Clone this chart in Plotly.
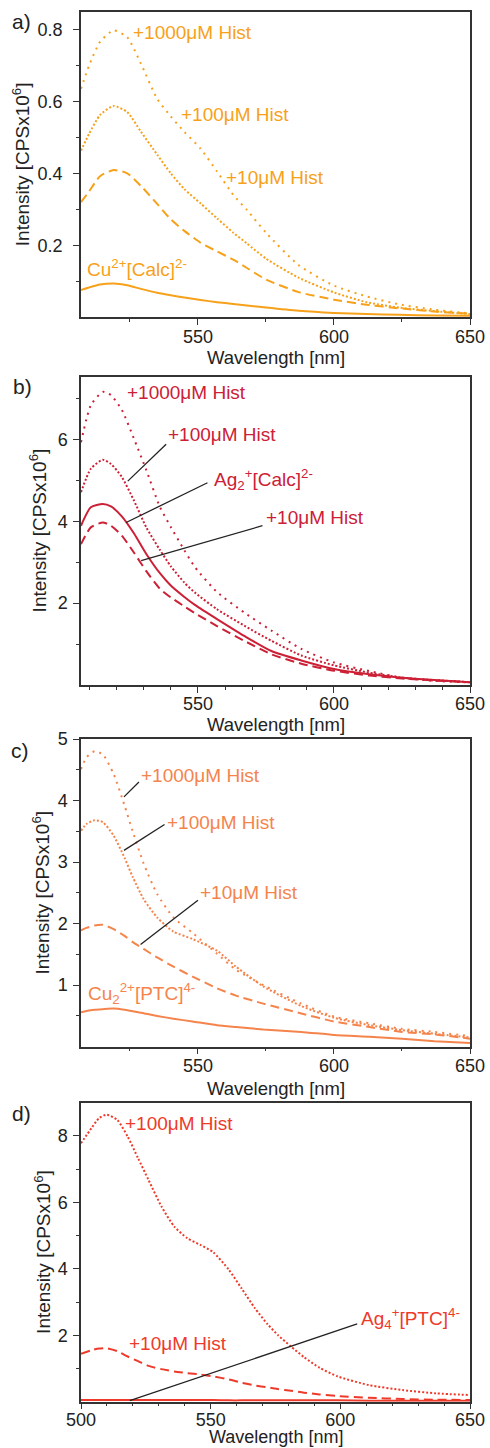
import plotly.graph_objects as go

# ---------------- data ----------------
# Panel a) Cu2+[Calc]2-
WL_A = [507, 510, 514, 519, 524, 529, 535, 540, 545, 551, 557, 563, 568, 575, 587, 600, 612, 624, 637, 650]
A_1000 = [0.635, 0.70, 0.765, 0.797, 0.778, 0.705, 0.607, 0.558, 0.515, 0.468, 0.405, 0.34, 0.298, 0.235, 0.145, 0.088, 0.058, 0.036, 0.021, 0.011]
A_100 = [0.463, 0.51, 0.562, 0.587, 0.570, 0.516, 0.452, 0.40, 0.356, 0.316, 0.275, 0.235, 0.205, 0.163, 0.11, 0.069, 0.042, 0.027, 0.017, 0.009]
A_10 = [0.32, 0.35, 0.392, 0.409, 0.40, 0.365, 0.315, 0.272, 0.240, 0.207, 0.183, 0.16, 0.137, 0.105, 0.07, 0.049, 0.035, 0.025, 0.016, 0.01]
A_0 = [0.076, 0.083, 0.091, 0.094, 0.089, 0.079, 0.068, 0.061, 0.055, 0.048, 0.042, 0.037, 0.033, 0.027, 0.018, 0.012, 0.009, 0.007, 0.005, 0.004]

# Panel b) Ag2+[Calc]2-
WL_B = [507, 510.6, 515, 518, 522, 526.5, 531, 536, 540, 545, 549, 557, 567, 577, 588, 600, 613, 625, 637, 650]
B_1000 = [5.93, 6.83, 7.16, 7.08, 6.72, 6.01, 5.25, 4.35, 3.86, 3.29, 2.87, 2.27, 1.77, 1.33, 0.88, 0.55, 0.34, 0.18, 0.10, 0.06]
B_100 = [4.71, 5.28, 5.50, 5.40, 5.08, 4.50, 3.85, 3.30, 2.90, 2.50, 2.25, 1.85, 1.45, 1.08, 0.72, 0.48, 0.30, 0.18, 0.12, 0.07]
B_0 = [3.89, 4.34, 4.42, 4.36, 4.12, 3.70, 3.20, 2.73, 2.43, 2.15, 1.95, 1.61, 1.20, 0.83, 0.60, 0.39, 0.26, 0.18, 0.12, 0.07]
B_10 = [3.44, 3.85, 3.97, 3.89, 3.65, 3.23, 2.78, 2.35, 2.14, 1.92, 1.75, 1.44, 1.08, 0.75, 0.52, 0.35, 0.23, 0.16, 0.11, 0.07]

# Panel c) Cu2(2+)[PTC]4-
WL_C = [507, 509, 512, 515, 519, 523, 526, 530, 535, 541, 548, 557, 564, 574, 588, 600, 613, 625, 637, 650]
C_1000 = [4.51, 4.70, 4.80, 4.75, 4.43, 3.92, 3.50, 2.98, 2.48, 2.10, 1.85, 1.51, 1.25, 1.00, 0.70, 0.49, 0.38, 0.29, 0.24, 0.17]
C_100 = [3.51, 3.62, 3.68, 3.65, 3.43, 3.07, 2.76, 2.40, 2.10, 1.87, 1.75, 1.56, 1.30, 0.98, 0.66, 0.47, 0.35, 0.27, 0.21, 0.15]
C_10 = [1.89, 1.93, 1.97, 1.98, 1.91, 1.80, 1.70, 1.59, 1.45, 1.30, 1.14, 0.95, 0.83, 0.70, 0.54, 0.41, 0.32, 0.24, 0.20, 0.13]
C_0 = [0.56, 0.58, 0.60, 0.61, 0.62, 0.60, 0.575, 0.545, 0.50, 0.455, 0.41, 0.35, 0.32, 0.28, 0.24, 0.19, 0.16, 0.13, 0.09, 0.06]

# Panel d) Ag4+[PTC]4-
WL_D = [500, 504, 507, 510, 514, 518, 522, 526, 531, 536, 541, 546, 551, 557, 562, 567, 572, 576, 581, 586, 592, 599, 611, 624, 637, 650]
D_100 = [7.78, 8.23, 8.54, 8.64, 8.48, 7.98, 7.33, 6.68, 5.88, 5.27, 4.92, 4.72, 4.50, 3.97, 3.40, 2.82, 2.33, 2.00, 1.66, 1.34, 1.02, 0.76, 0.50, 0.35, 0.25, 0.20]
D_10 = [1.44, 1.55, 1.60, 1.61, 1.52, 1.36, 1.22, 1.08, 0.98, 0.91, 0.86, 0.82, 0.76, 0.67, 0.57, 0.49, 0.43, 0.38, 0.33, 0.27, 0.22, 0.17, 0.12, 0.08, 0.06, 0.05]
D_0 = [0.05, 0.05, 0.05, 0.05, 0.05, 0.05, 0.05, 0.05, 0.05, 0.05, 0.05, 0.05, 0.05, 0.04, 0.04, 0.04, 0.04, 0.04, 0.04, 0.04, 0.04, 0.04, 0.03, 0.03, 0.03, 0.03]

# ---------------- styling ----------------
FONT = "Liberation Sans, Arial, sans-serif"
FS = 19
TFS = 18
COL_A = "#F7A11A"
COL_B = "#CC2036"
COL_C = "#F5844C"
COL_D = "#EE3A2A"
SPARSE = "2px,5px"
DENSE = "2px,2px"
DASH = "9px,5px"
AXC = "#333333"

W, H = 490, 1448
XD = [81 / W, 470 / W]


def ydom(top, bottom):
    return [1 - bottom / H, 1 - top / H]


fig = go.Figure()


def add(x, y, color, dash, ax):
    fig.add_trace(go.Scatter(
        x=x, y=y, mode="lines", xaxis="x" + ax, yaxis="y" + ax,
        line=dict(color=color, width=2, dash=dash, shape="spline", smoothing=0.6),
        showlegend=False, hoverinfo="skip"))


add(WL_A, A_1000, COL_A, SPARSE, "")
add(WL_A, A_100, COL_A, DENSE, "")
add(WL_A, A_10, COL_A, DASH, "")
add(WL_A, A_0, COL_A, "solid", "")

add(WL_B, B_1000, COL_B, SPARSE, "2")
add(WL_B, B_100, COL_B, DENSE, "2")
add(WL_B, B_0, COL_B, "solid", "2")
add(WL_B, B_10, COL_B, DASH, "2")

add(WL_C, C_1000, COL_C, SPARSE, "3")
add(WL_C, C_100, COL_C, DENSE, "3")
add(WL_C, C_10, COL_C, DASH, "3")
add(WL_C, C_0, COL_C, "solid", "3")

add(WL_D, D_100, COL_D, DENSE, "4")
add(WL_D, D_10, COL_D, DASH, "4")
add(WL_D, D_0, COL_D, "solid", "4")


def xax(anchor, rng, vals, minors, standoff=-4):
    return dict(
        domain=XD, anchor=anchor, range=rng, showline=True, mirror=True, automargin=False,
        linecolor=AXC, linewidth=1.5, ticks="outside", ticklen=6, tickwidth=1.3,
        tickcolor=AXC, tickmode="array", tickvals=vals, ticktext=[str(v) for v in vals],
        minor=dict(tickvals=minors, ticks="outside", ticklen=3, tickwidth=1.2, tickcolor=AXC),
        tickfont=dict(family=FONT, size=TFS, color="#222"), ticklabelstandoff=standoff,
        showgrid=False, zeroline=False, fixedrange=True)


def yax(anchor, dom, rng, vals, labels, minors, standoff=2):
    return dict(
        domain=dom, anchor=anchor, range=rng, showline=True, mirror=True, automargin=False,
        linecolor=AXC, linewidth=1.5, ticks="outside", ticklen=6, tickwidth=1.3,
        tickcolor=AXC, tickmode="array", tickvals=vals, ticktext=labels,
        minor=dict(tickvals=minors, ticks="outside", ticklen=3, tickwidth=1.2, tickcolor=AXC),
        tickfont=dict(family=FONT, size=TFS, color="#222"), ticklabelstandoff=standoff,
        showgrid=False, zeroline=False, fixedrange=True)


fig.update_layout(
    width=W, height=H, margin=dict(l=0, r=0, t=0, b=0, pad=0),
    paper_bgcolor="white", plot_bgcolor="white",
    font=dict(family=FONT, size=FS, color="#222"),
    xaxis=xax("y", [507, 650], [550, 600, 650], [525, 575, 625]),
    yaxis=yax("x", ydom(12, 317.3), [0, 0.848], [0.2, 0.4, 0.6, 0.8],
              ["0.2", "0.4", "0.6", "0.8"], [0.1, 0.3, 0.5, 0.7], standoff=7),
    xaxis2=xax("y2", [507, 650], [550, 600, 650], list(range(510, 650, 10))),
    yaxis2=yax("x2", ydom(376.7, 685), [0, 7.53], [2, 4, 6], ["2", "4", "6"], [1, 3, 5, 7]),
    xaxis3=xax("y3", [507, 650], [550, 600, 650], [525, 575, 625]),
    yaxis3=yax("x3", ydom(739, 1046.7), [0, 5], [1, 2, 3, 4, 5], ["1", "2", "3", "4", "5"],
               [0.5, 1.5, 2.5, 3.5, 4.5]),
    xaxis4=xax("y4", [500, 650], [500, 550, 600, 650], list(range(510, 650, 10)), standoff=-5),
    yaxis4=yax("x4", ydom(1102.7, 1401.7), [0, 9], [2, 4, 6, 8], ["2", "4", "6", "8"], [1, 3, 5, 7]),
)

# ---------------- curve labels ----------------
def label(text, x, y, color, ax):
    fig.add_annotation(text=text, x=x, y=y, xref="x" + ax, yref="y" + ax,
                       xanchor="left", yanchor="middle", showarrow=False,
                       font=dict(family=FONT, size=FS, color=color))


label("+1000\u03bcM Hist", 525.4, 0.79, COL_A, "")
label("+100\u03bcM Hist", 543.1, 0.564, COL_A, "")
label("+10\u03bcM Hist", 559.7, 0.389, COL_A, "")
label("Cu<sup>2+</sup>[Calc]<sup>2-</sup>", 508.6, 0.136, COL_A, "")

label("+1000\u03bcM Hist", 523.0, 7.14, COL_B, "2")
label("+100\u03bcM Hist", 538.3, 6.12, COL_B, "2")
label("Ag<sub>2</sub><sup>+</sup>[Calc]<sup>2-</sup>", 555.2, 5.02, COL_B, "2")
label("+10\u03bcM Hist", 574.3, 4.09, COL_B, "2")

label("+1000\u03bcM Hist", 528.3, 4.41, COL_C, "3")
label("+100\u03bcM Hist", 537.7, 3.65, COL_C, "3")
label("+10\u03bcM Hist", 550.0, 2.50, COL_C, "3")
label("Cu<sub>2</sub><sup>2+</sup>[PTC]<sup>4-</sup>", 508.7, 0.86, COL_C, "3")

label("+100\u03bcM Hist", 516.2, 8.36, COL_D, "4")
label("+10\u03bcM Hist", 517.9, 1.76, COL_D, "4")
label("Ag<sub>4</sub><sup>+</sup>[PTC]<sup>4-</sup>", 607.3, 2.51, COL_D, "4")

# leader lines
def leader(x0, y0, x1, y1, ax):
    fig.add_shape(type="line", x0=x0, y0=y0, x1=x1, y1=y1, xref="x" + ax, yref="y" + ax,
                  line=dict(color="#222", width=1.3))


leader(538.3, 5.88, 524.2, 4.98, "2")
leader(553.5, 4.94, 523.6, 3.97, "2")
leader(573.7, 3.89, 529.1, 3.04, "2")

leader(528.3, 4.30, 522.8, 4.06, "3")
leader(537.7, 3.61, 522.8, 3.19, "3")
leader(550.0, 2.38, 528.9, 1.66, "3")

leader(606.5, 2.34, 518.8, 0.03, "4")

# ---------------- axis titles & panel letters ----------------
def ptext(text, px, py, size=FS, angle=0):
    fig.add_annotation(text=text, x=px / W, y=1 - py / H, xref="paper", yref="paper",
                       xanchor="center", yanchor="middle", showarrow=False, textangle=angle,
                       font=dict(family=FONT, size=size, color="#222"))


YT = "Intensity [CPSx10<sup>6</sup>]"
XT = "Wavelength [nm]"
ptext(YT, 21.7, 164.5, angle=-90)
ptext(YT, 37.5, 530.9, angle=-90)
ptext(YT, 40.7, 892.9, angle=-90)
ptext(YT, 42.7, 1252.2, angle=-90)
ptext(XT, 275.5, 357.5, size=18.5)
ptext(XT, 275.5, 724, size=18.5)
ptext(XT, 275.5, 1088, size=18.5)
ptext(XT, 275.5, 1437, size=18)
ptext("a)", 21, 22, size=21)
ptext("b)", 22.5, 386.7, size=21)
ptext("c)", 20, 750, size=21)
ptext("d)", 21, 1113, size=21)

fig.write_html(
    "out.html",
    post_script="document.documentElement.style.margin='0';document.body.style.margin='0';"
                "document.body.style.overflow='hidden';",
)
